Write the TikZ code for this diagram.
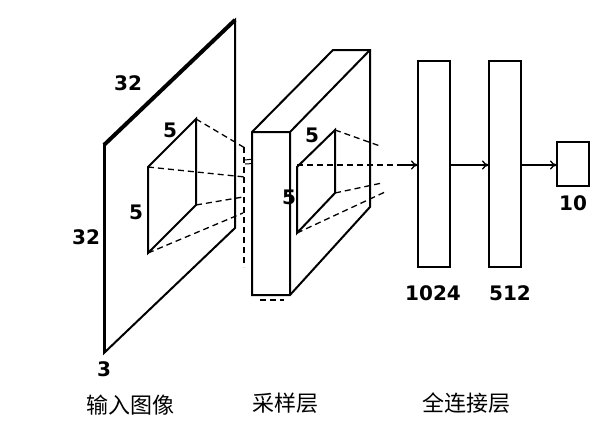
\documentclass[tikz,border=0pt]{standalone}
\usepackage{fontspec}
\setmainfont{DejaVu Sans}
\newfontfamily\cjk{Noto Sans CJK SC}
\usetikzlibrary{arrows.meta}
\begin{document}
\begin{tikzpicture}[x=1pt,y=-1pt,
  ln/.style={line width=2pt,line join=miter},
  dsh/.style={line width=1.3pt,dash pattern=on 6pt off 4pt},
  arr/.style={line width=1.3pt,-{To[length=7pt,width=9pt]}},
  num/.style={font=\fontsize{20}{20}\selectfont\bfseries,inner sep=0},
  cn/.style={font=\cjk\fontsize{22}{22}\selectfont,inner sep=0}]
\useasboundingbox (0,0) rectangle (615,439);
% input plane
\draw[ln] (104,353) -- (104,145) -- (235,20) -- (235,228) -- cycle;
\draw[line width=4pt] (104,145) -- (235,20);
\draw[line width=3pt] (104,145) -- (104,353);
\draw[ln] (148,167) -- (196,119) -- (196,205) -- (148,253) -- cycle;
\draw[dsh] (196,119) -- (245,148);
\draw[dsh] (148,167) -- (245,177);
\draw[dsh] (196,205) -- (243,197);
\draw[dsh] (148,253) -- (243,213);
\draw[dsh] (244,147) -- (244,267);
\draw[line width=1pt] (245,160) -- (262,158) (245,164) -- (262,163);
% sampling block
\draw[ln,fill=white] (252,132) -- (333,50) -- (370,50) -- (370,207) -- (290,295) -- (252,295) -- cycle;
\draw[ln] (252,132) -- (290,132) -- (370,50) (290,132) -- (290,295);
\draw[dsh] (260,300) -- (284,300);
\draw[ln] (297,167) -- (335,130) -- (335,193) -- (297,233) -- cycle;
\draw[dsh] (335,130) -- (380,146);
\draw[dsh] (335,193) -- (382,183);
\draw[dsh] (297,233) -- (385,192);
% FC layers
\draw[ln] (418,61) rectangle (450,267);
\draw[ln] (489,61) rectangle (521,267);
\draw[ln] (557,142) rectangle (589,186);
\coordinate (s) at (297,165);
\draw[dsh] (s) -- (408,165);
\draw[arr] (400,165) -- (418,165);
\draw[arr] (450,165) -- (489,165);
\draw[arr] (521,165) -- (557,165);
% labels
\node[num] at (128,83) {32};
\node[num] at (170,130) {5};
\node[num] at (136,212) {5};
\node[num] at (86,237) {32};
\node[num] at (104,369) {3};
\node[num] at (312,135) {5};
\node[num] at (289,197) {5};
\node[num] at (433,293) {1024};
\node[num] at (510,293) {512};
\node[num] at (573,203) {10};
\node[cn] at (130,405) {输入图像};
\node[cn] at (285,403) {采样层};
\node[cn] at (466,403) {全连接层};
\end{tikzpicture}
\end{document}
